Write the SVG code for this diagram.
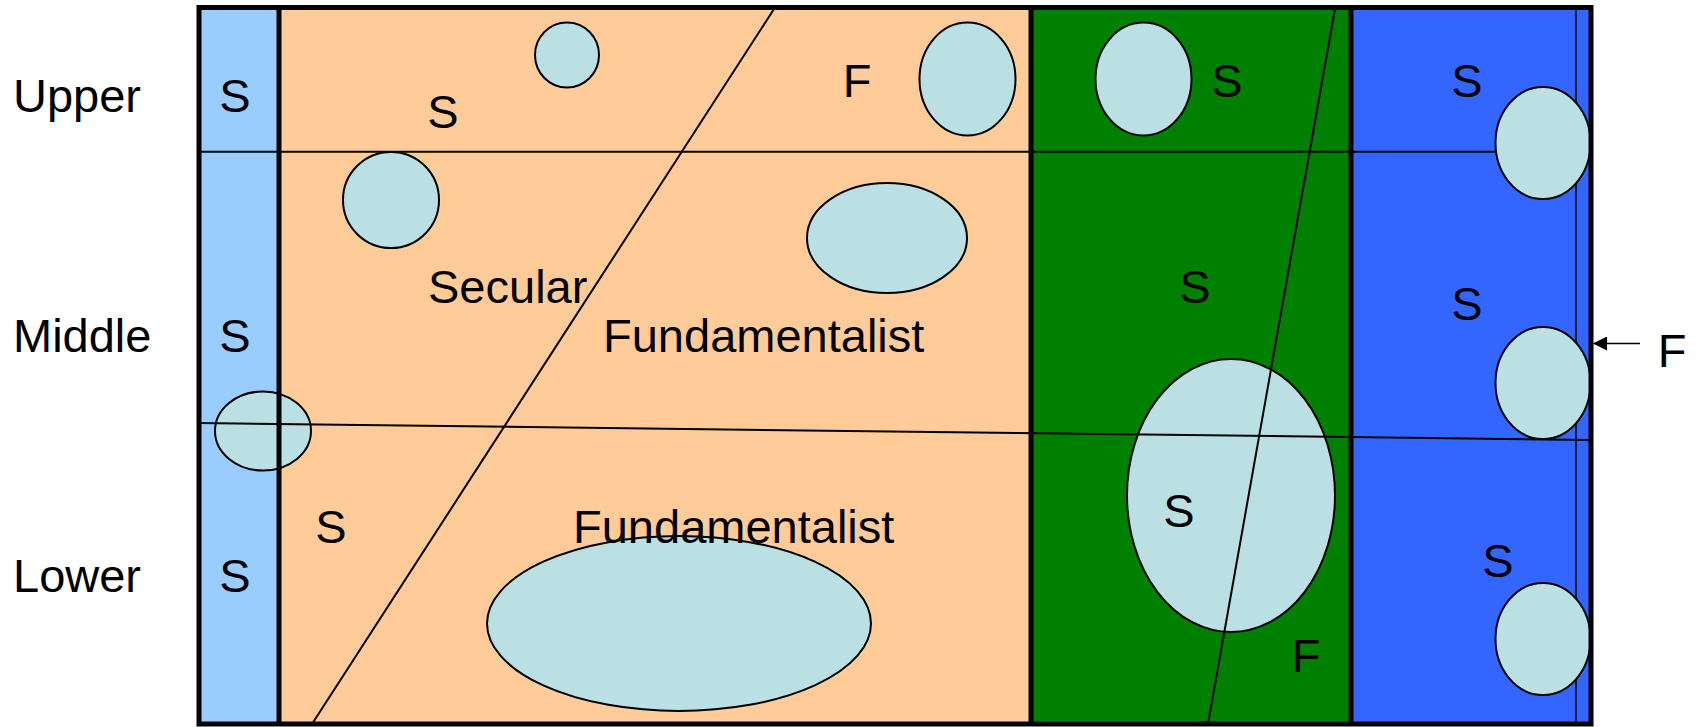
<svg xmlns="http://www.w3.org/2000/svg" width="1698" height="727" viewBox="0 0 1698 727">
<defs>
<style>
.lbl{font-family:"Liberation Sans",Arial,sans-serif;font-size:47px;fill:#000}
.c{text-anchor:middle}
.blob{fill:#BBE0E3;stroke:#000;stroke-width:2}
.thin{stroke:#000;stroke-width:2;fill:none}
.thick{stroke:#000;stroke-width:5;fill:none}
</style>
<marker id="ah" markerWidth="14" markerHeight="14" refX="13" refY="7" orient="auto" markerUnits="userSpaceOnUse">
<path d="M0,0 L14,7 L0,14 Z" fill="#000"/>
</marker>
</defs>
<rect width="1698" height="727" fill="#fff"/>
<g id="columns">
<rect x="199" y="7.5" width="80" height="716.5" fill="#99CCFF"/>
<rect x="279" y="7.5" width="752" height="716.5" fill="#FFCC99"/>
<rect x="1031" y="7.5" width="320" height="716.5" fill="#008000"/>
<rect x="1351" y="7.5" width="240" height="716.5" fill="#3366FF"/>
<line class="thin" x1="1576" y1="7.5" x2="1576" y2="724" style="stroke-width:1.5"/>
</g>
<g id="groups">
<ellipse id="g1" class="blob" cx="567" cy="55" rx="32" ry="32.5"/>
<ellipse id="g2" class="blob" cx="967.5" cy="79" rx="48" ry="56.5"/>
<ellipse id="g3" class="blob" cx="1143.5" cy="79" rx="48" ry="56.5"/>
<ellipse id="g4" class="blob" cx="1543" cy="143" rx="47.5" ry="56"/>
<ellipse id="g5" class="blob" cx="391" cy="200" rx="48" ry="48"/>
<ellipse id="g6" class="blob" cx="887" cy="238" rx="80" ry="55"/>
<ellipse id="g7" class="blob" cx="263" cy="431" rx="48" ry="39.5"/>
<ellipse id="g8" class="blob" cx="1231" cy="495.5" rx="104" ry="136.5"/>
<ellipse id="g9" class="blob" cx="1543" cy="383" rx="47.5" ry="56"/>
<ellipse id="g10" class="blob" cx="679" cy="623.5" rx="192" ry="87.5"/>
<ellipse id="g11" class="blob" cx="1543" cy="639" rx="47.5" ry="56"/>
</g>
<g id="dividers">
<line class="thin" x1="199" y1="151.7" x2="1496" y2="151.7"/>
<line class="thin" x1="199" y1="423" x2="1590" y2="440"/>
<line class="thin" x1="774" y1="9" x2="312" y2="724"/>
<line class="thin" x1="1335" y1="9" x2="1208" y2="724"/>
<line class="thick" x1="279" y1="7.5" x2="279" y2="724"/>
<line class="thick" x1="1031" y1="7.5" x2="1031" y2="724"/>
<line class="thick" x1="1351" y1="7.5" x2="1351" y2="724"/>
<rect class="thick" x="199" y="7.5" width="1392" height="716.5"/>
</g>
<g id="connectors">
<line x1="1640" y1="343.5" x2="1594" y2="343.5" stroke="#000" stroke-width="1.5" marker-end="url(#ah)"/>
</g>
<g id="labels">
<text class="lbl" x="13" y="112">Upper</text>
<text class="lbl" x="13" y="352">Middle</text>
<text class="lbl" x="13" y="592">Lower</text>
<text class="lbl c" x="235" y="112">S</text>
<text class="lbl c" x="235" y="352">S</text>
<text class="lbl c" x="235" y="592">S</text>
<text class="lbl c" x="443" y="128">S</text>
<text class="lbl c" x="857" y="97">F</text>
<text class="lbl c" x="1227" y="97">S</text>
<text class="lbl c" x="1467" y="97">S</text>
<text class="lbl" x="428" y="303">Secular</text>
<text class="lbl" x="603" y="352">Fundamentalist</text>
<text class="lbl c" x="1195" y="303">S</text>
<text class="lbl c" x="1467" y="320">S</text>
<text class="lbl c" x="1672" y="367">F</text>
<text class="lbl c" x="331" y="543">S</text>
<text class="lbl" x="573" y="543">Fundamentalist</text>
<text class="lbl c" x="1179" y="527">S</text>
<text class="lbl c" x="1306" y="672">F</text>
<text class="lbl c" x="1498" y="577">S</text>
</g>
</svg>
